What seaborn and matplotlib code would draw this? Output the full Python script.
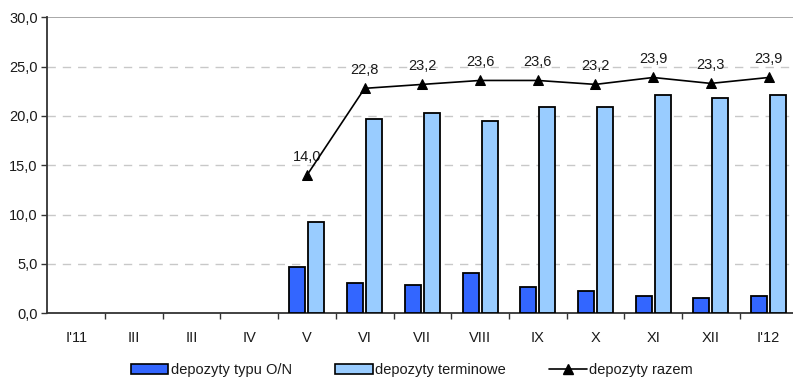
import numpy as np
import pandas as pd
import matplotlib
matplotlib.use("Agg")
import matplotlib.pyplot as plt
from matplotlib.ticker import FuncFormatter, FixedLocator
from matplotlib.lines import Line2D
from matplotlib.patches import Patch
import seaborn as sns

# Monthly deposits (bln), Jan 2011 - Jan 2012
months = ["I'11", "III", "III", "IV", "V", "VI", "VII", "VIII", "IX", "X", "XI", "XII", "I'12"]
overnight = [np.nan, np.nan, np.nan, np.nan, 4.7, 3.1, 2.9, 4.1, 2.7, 2.3, 1.8, 1.5, 1.8]
term = [np.nan, np.nan, np.nan, np.nan, 9.3, 19.7, 20.3, 19.5, 20.9, 20.9, 22.1, 21.8, 22.1]
total = [np.nan, np.nan, np.nan, np.nan, 14.0, 22.8, 23.2, 23.6, 23.6, 23.2, 23.9, 23.3, 23.9]

label_on = "depozyty typu O/N"
label_term = "depozyty terminowe"
label_total = "depozyty razem"

col_on = "#3366FF"
col_term = "#99CCFF"
txt = "#1a1a1a"
fs = 10.5

sns.set_theme(style="white")
plt.rcParams["font.family"] = ["Liberation Sans", "DejaVu Sans"]

idx = list(range(len(months)))
bars = pd.DataFrame({
    "pos": idx * 2,
    "value": overnight + term,
    "series": [label_on] * len(idx) + [label_term] * len(idx),
})
line = pd.DataFrame({"pos": idx, "value": total}).dropna()

fig = plt.figure(figsize=(7.93, 3.78), dpi=100)
ax = fig.add_axes([0.0597, 0.1712, 0.9458, 0.783])

sns.barplot(data=bars, x="pos", y="value", hue="series", order=idx,
            hue_order=[label_on, label_term], palette=[col_on, col_term],
            saturation=1, width=0.66, gap=0.16, edgecolor="black", linewidth=1.3,
            legend=False, ax=ax, zorder=3)
sns.lineplot(data=line, x="pos", y="value", color="black", linewidth=1.2,
             marker="^", markersize=7.5, markeredgecolor="black",
             ax=ax, zorder=4)

for x, v in zip(line["pos"], line["value"]):
    ax.annotate(f"{v:.1f}".replace(".", ","), (x, v), xytext=(0, 8),
                textcoords="offset points", ha="center", va="bottom",
                fontsize=fs, color=txt)

ax.set_xlim(-0.5, len(months) - 0.5)
ax.set_ylim(0, 30)
ax.set_yticks(np.arange(0, 31, 5))
ax.yaxis.set_major_formatter(FuncFormatter(lambda v, p: f"{v:.1f}".replace(".", ",")))
ax.set_xticks(idx)
ax.set_xticklabels(months)
ax.xaxis.set_minor_locator(FixedLocator(np.arange(0.5, len(months) - 1, 1.0)))
ax.tick_params(axis="x", which="major", length=0, pad=13, labelsize=fs, labelcolor=txt)
ax.tick_params(axis="x", which="minor", length=4, width=1, color="#333333", direction="out", bottom=True)
ax.tick_params(axis="y", which="major", length=4, width=1, color="#333333", direction="out",
               left=True, labelsize=fs, labelcolor=txt, pad=3)
ax.set_xlabel("")
ax.set_ylabel("")

for y in range(5, 30, 5):
    ax.axhline(y, color="#c8c8c8", linewidth=1, linestyle=(0, (6, 5)), zorder=1)
ax.axhline(30, color="#999999", linewidth=1.2, zorder=1)

for s in ["top", "right"]:
    ax.spines[s].set_visible(False)
for s in ["left", "bottom"]:
    ax.spines[s].set_color("#333333")
    ax.spines[s].set_linewidth(1.3)

handles = [
    Patch(facecolor=col_on, edgecolor="black", linewidth=1.2, label=label_on),
    Patch(facecolor=col_term, edgecolor="black", linewidth=1.2, label=label_term),
    Line2D([], [], color="black", linewidth=1.2, marker="^", markersize=7.5, label=label_total),
]
fig.legend(handles=handles, loc="center", bbox_to_anchor=(0.519, 0.021), ncol=3,
           frameon=False, fontsize=fs, handlelength=2.6, handleheight=0.7,
           handletextpad=0.15, columnspacing=2.95, labelcolor=txt)

fig.savefig("out.png", dpi=100)
